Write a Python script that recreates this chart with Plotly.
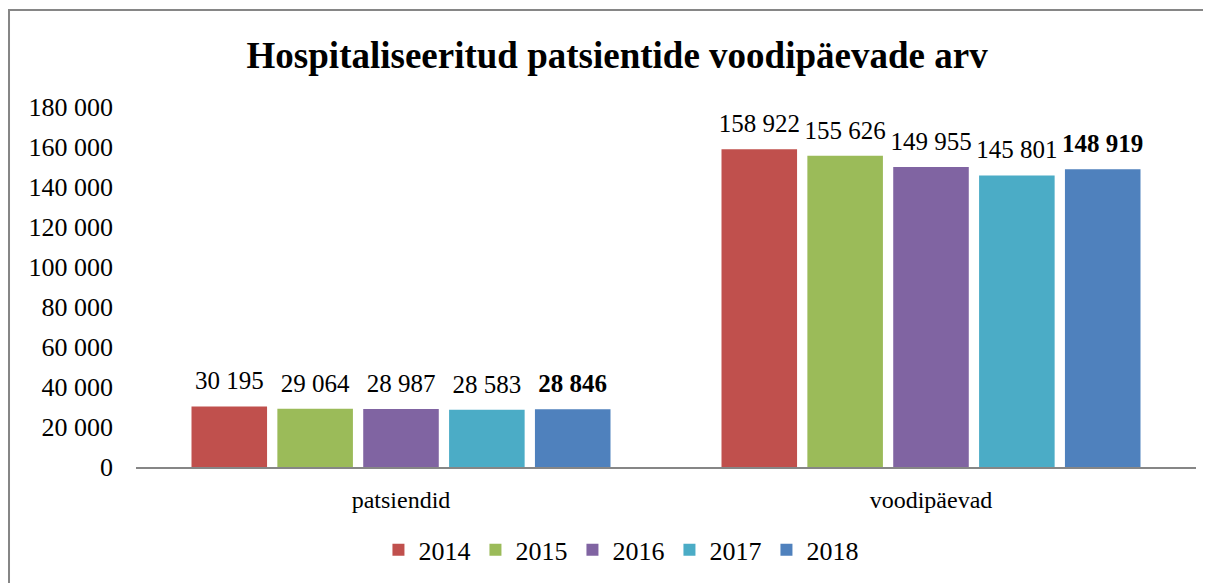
import plotly.graph_objects as go

# andmed
kategooriad = ["patsiendid", "voodipäevad"]
aastad = ["2014", "2015", "2016", "2017", "2018"]
v2014 = [30195, 158922]
v2015 = [29064, 155626]
v2016 = [28987, 149955]
v2017 = [28583, 145801]
v2018 = [28846, 148919]
varvid = ["#C0504D", "#9BBB59", "#8064A2", "#4BACC6", "#4F81BD"]

vaartused = [v2014, v2015, v2016, v2017, v2018]


def vorminda(n):
    return f"{n:,}".replace(",", " ")


FONT = "Liberation Serif, Times New Roman, serif"
GAP = 0.19

fig = go.Figure()
for aasta, vals, col in zip(aastad, vaartused, varvid):
    fig.add_trace(go.Bar(
        x=kategooriad, y=vals, name=aasta,
        marker=dict(color=col, line=dict(width=0)),
        hoverinfo="skip",
    ))

# andmesildid eraldi tekstijälgedena, et neil oleks tulba kohal vahe
for aasta, vals in zip(aastad, vaartused):
    tekst = [vorminda(v) for v in vals]
    if aasta == "2018":
        tekst = ["<b>" + t + "</b>" for t in tekst]
    fig.add_trace(go.Scatter(
        x=kategooriad, y=vals, mode="markers+text", text=tekst,
        textposition="top center", showlegend=False, hoverinfo="skip",
        marker=dict(size=16, color="rgba(0,0,0,0)"), cliponaxis=False,
        textfont=dict(family=FONT, size=25, color="black"),
    ))

fig.update_layout(
    width=1211, height=583,
    margin=dict(l=128, r=23, t=99, b=124),
    paper_bgcolor="white", plot_bgcolor="white",
    font=dict(family=FONT, size=24, color="black"),
    separators=", ",
    title=dict(text="<b>Hospitaliseeritud patsientide voodipäevade arv</b>",
               x=0.503, xanchor="center", y=0.919, yanchor="middle",
               font=dict(family=FONT, size=37, color="black")),
    barmode="group", bargap=GAP, bargroupgap=0.12,
    scattermode="group", scattergap=GAP,
    showlegend=True,
    legend=dict(orientation="h", x=0.4575, xanchor="center", y=-0.23, yanchor="middle",
                font=dict(family=FONT, size=26), itemwidth=30, traceorder="normal"),
    xaxis=dict(showline=True, linecolor="#868686", linewidth=2, ticks="",
               tickfont=dict(family=FONT, size=24), showgrid=False,
               ticklabelstandoff=10),
    yaxis=dict(range=[0, 180000], dtick=20000, tickformat=",d", showgrid=False,
               zeroline=False, showline=False, ticks="",
               tickfont=dict(family=FONT, size=26), ticklabelstandoff=22),
    shapes=[dict(type="rect", xref="paper", yref="paper",
                 x0=-0.1198, x1=1.2, y0=-0.6, y1=1.2694,
                 line=dict(color="#868686", width=2))],
)

fig.write_html("out.html")
